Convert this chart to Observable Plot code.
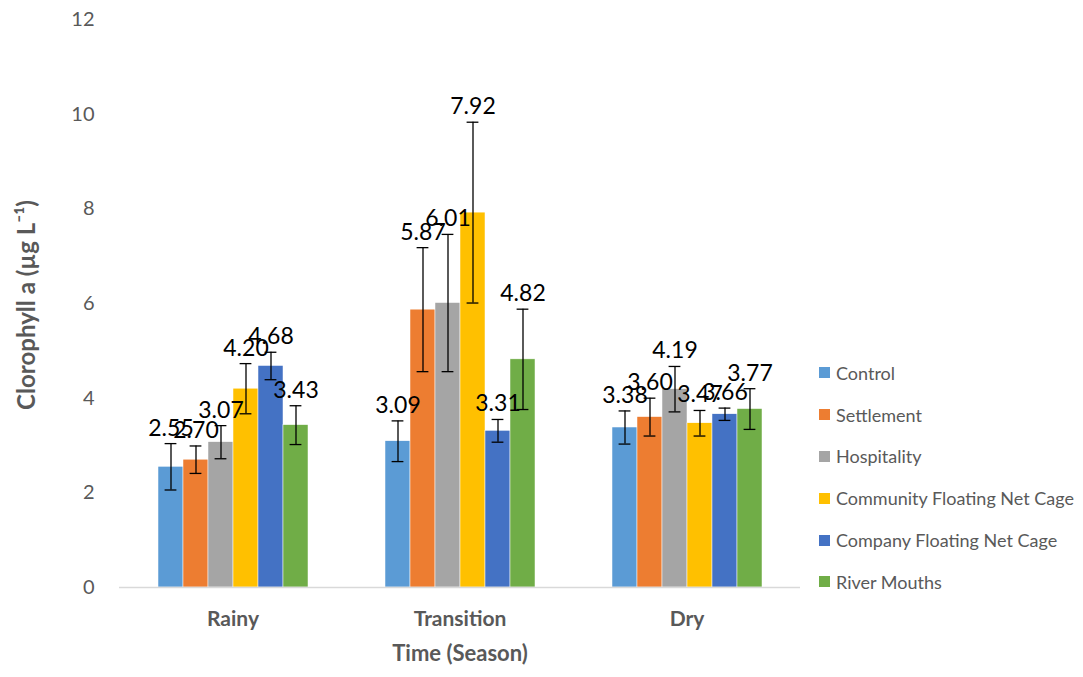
<!DOCTYPE html>
<html><head><meta charset="utf-8">
<script src="https://cdn.jsdelivr.net/npm/d3@7"></script>
<script src="https://cdn.jsdelivr.net/npm/@observablehq/plot@0.6"></script>
<style>
body{margin:0;background:#fff;font-family:Lato,"Open Sans",sans-serif;}
#wrap{position:relative;width:1083px;height:677px;}
#legend{position:absolute;left:819px;top:352px;}
.row{display:flex;align-items:center;height:41.8px;font-size:18px;color:#595959;font-family:Lato,sans-serif;white-space:nowrap;}
.sw{width:11px;height:11px;margin-right:6px;flex:none;}
</style></head><body><div id="wrap"></div>
<script>
const seasons = ["Rainy", "Transition", "Dry"];
const series = ["Control", "Settlement", "Hospitality", "Community Floating Net Cage", "Company Floating Net Cage", "River Mouths"];
const colors = ["#5B9BD5", "#ED7D31", "#A5A5A5", "#FFC000", "#4472C4", "#70AD47"];
const rainyMeans = [2.55, 2.70, 3.07, 4.20, 4.68, 3.43];
const rainyErrors = [0.49, 0.29, 0.35, 0.53, 0.29, 0.41];
const transitionMeans = [3.09, 5.87, 6.01, 7.92, 3.31, 4.82];
const transitionErrors = [0.43, 1.31, 1.45, 1.91, 0.24, 1.06];
const dryMeans = [3.38, 3.60, 4.19, 3.47, 3.66, 3.77];
const dryErrors = [0.35, 0.40, 0.48, 0.27, 0.13, 0.43];
const yTicks = [0, 2, 4, 6, 8, 10, 12];

const meansBySeason = [rainyMeans, transitionMeans, dryMeans];
const errorsBySeason = [rainyErrors, transitionErrors, dryErrors];
const data = [];
seasons.forEach((s, i) => series.forEach((k, j) => data.push({season: s, series: k, value: meansBySeason[i][j], err: errorsBySeason[i][j]})));

const plot = Plot.plot({
  width: 1083,
  height: 677,
  marginLeft: 118,
  marginRight: 283,
  marginTop: 19,
  marginBottom: 90,
  style: {fontFamily: "Lato, 'Open Sans', sans-serif", background: "white"},
  fx: {domain: seasons, padding: 0},
  x: {domain: series, paddingInner: 0, paddingOuter: 1.5, axis: null},
  y: {domain: [0, 12]},
  color: {domain: series, range: colors},
  marks: [
    Plot.axisY({ticks: yTicks, tickSize: 0, tickPadding: 25, fontSize: 20, color: "#595959",
      label: "Clorophyll a (µg L⁻¹)", labelAnchor: "center", labelArrow: "none", labelOffset: 106}),
    Plot.axisFx({anchor: "bottom", tickSize: 0, tickPadding: 24, fontSize: 21, fontWeight: "bold", color: "#595959",
      label: "Time (Season)", labelAnchor: "center", labelArrow: "none", labelOffset: 73}),
    Plot.barY(data, {fx: "season", x: "series", y: "value", fill: "series", stroke: "white", strokeWidth: 0.5}),
    Plot.ruleY([0], {stroke: "#d9d9d9", strokeWidth: 1.5}),
    Plot.ruleX(data, {fx: "season", x: "series", y1: d => d.value - d.err, y2: d => d.value + d.err, stroke: "black", strokeWidth: 1.3}),
    Plot.tickY(data, {fx: "season", x: "series", y: d => d.value - d.err, stroke: "black", strokeWidth: 1.3, insetLeft: 6.6, insetRight: 6.6}),
    Plot.tickY(data, {fx: "season", x: "series", y: d => d.value + d.err, stroke: "black", strokeWidth: 1.3, insetLeft: 6.6, insetRight: 6.6}),
    Plot.text(data, {fx: "season", x: "series", y: d => d.value + d.err, text: d => d.value.toFixed(2), dy: -8, lineAnchor: "bottom", fontSize: 23, fill: "black"})
  ]
});

const svg = d3.select(plot);
svg.selectAll('g[aria-label="fx-axis label"], g[aria-label="fx-axis label"] text').attr("font-weight", "bold").attr("font-size", 22);

const wrap = document.getElementById("wrap");
wrap.appendChild(plot);

// y-axis title: bold, sized and centred like the reference (span ≈ 200–410 px, centre x ≈ 25)
const yLab = svg.select('g[aria-label="y-axis label"]');
yLab.attr("font-weight", "bold").selectAll("text").attr("font-weight", "bold").attr("font-size", 20);
const node = yLab.node();
if (node) {
  let r = node.getBoundingClientRect();
  const fs = Math.max(18, Math.min(25, 20 * 210 / r.height));
  yLab.selectAll("text").attr("font-size", fs);
  r = node.getBoundingClientRect();
  const wr = wrap.getBoundingClientRect();
  const dy = 305 - ((r.top + r.bottom) / 2 - wr.top);
  const dx = 25 - ((r.left + r.right) / 2 - wr.left);
  const t = node.getAttribute("transform") || "";
  node.setAttribute("transform", `translate(${dx},${dy}) ${t}`);
}

const color = plot.scale("color");
const legend = d3.select(wrap).append("div").attr("id", "legend");
series.forEach(s => {
  const row = legend.append("div").attr("class", "row");
  row.append("div").attr("class", "sw").style("background", color.apply(s));
  row.append("span").text(s);
});
</script></body></html>
